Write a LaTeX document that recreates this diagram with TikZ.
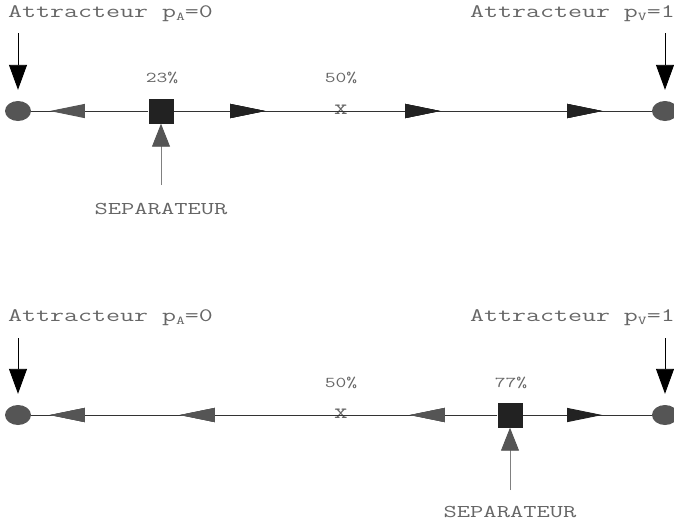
\documentclass[tikz,border=0pt]{standalone}
\usepackage{fontspec}
\usepackage{graphicx}
\usetikzlibrary{arrows.meta,decorations.markings,shapes.geometric}
\definecolor{txtgray}{HTML}{666666}
\definecolor{dotgray}{HTML}{555555}
\definecolor{darktri}{HTML}{222222}
\definecolor{linegray}{HTML}{333333}
\newcommand{\wide}[1]{\scalebox{1.43}[1]{#1}}
\newcommand{\widep}[1]{\scalebox{1.4}[1]{#1}}
\newcommand{\subl}[1]{\raisebox{-0.35ex}{\fontsize{12}{12}\selectfont #1}}
\tikzset{
  lbl/.style={text=txtgray, font=\ttfamily\fontsize{19}{19}\selectfont, inner sep=0pt},
  seplbl/.style={text=txtgray, font=\ttfamily\fontsize{18}{18}\selectfont, inner sep=0pt},
  pct/.style={text=txtgray, font=\ttfamily\fontsize{15}{15}\selectfont, inner sep=0pt},
  xlbl/.style={text=txtgray, font=\ttfamily\fontsize{22}{22}\selectfont, inner sep=0pt},
  attr/.style={ellipse, fill=dotgray, minimum width=26pt, minimum height=20pt, inner sep=0pt},
  sepbox/.style={rectangle, fill=darktri, minimum width=25pt, minimum height=25pt, inner sep=0pt},
  mainline/.style={draw=linegray, line width=0.9pt},
  fwd/.style={postaction={decorate}, decoration={markings, mark=at position #1 with {\arrow[darktri]{Triangle[length=35pt,width=14pt]}}}},
  bwd/.style={postaction={decorate}, decoration={markings, mark=at position #1 with {\arrow[dotgray]{Triangle[length=35pt,width=14pt]}}}},
  downarr/.style={draw=black, line width=0.9pt, -{Triangle[length=25pt,width=18pt]}},
  separr/.style={draw=gray, line width=0.9pt, -{Triangle[length=23pt,width=18pt,color=dotgray]}}
}
\begin{document}
\begin{tikzpicture}[x=1pt,y=-1pt]
\useasboundingbox (0,0) rectangle (674,523);
% ---------- top diagram ----------
\node[lbl, anchor=west] (la1) at (8,14) {\wide{Attracteur p\subl{A}=0}};
\node[lbl, anchor=east] (lv1) at (675,14) {\wide{Attracteur p\subl{V}=1}};
\node[attr] (eL1) at (18,111) {};
\node[attr] (eR1) at (665,111) {};
\node[sepbox] (s1) at (161,111) {};
\node[pct] (p23) at (162,78) {\widep{23\%}};
\node[pct] (p50a) at (341,78) {\widep{50\%}};
\node[xlbl] (x1) at (341,110) {\scalebox{1.2}[1]{x}};
\node[seplbl] (sep1) at (161,209) {\wide{SEPARATEUR}};
\coordinate (da1) at (18,33);
\coordinate (dv1) at (665,33);
\coordinate (sa1) at (161,185);
\draw[mainline, bwd=98.5pt] (s1.west) -- (eL1.east);
\path[mainline, fwd=91.5pt, fwd=266.5pt, fwd=428.5pt] (s1.east) -- (eR1.west);
\draw[downarr, shorten >=11pt] (da1) -- (eL1.north);
\draw[downarr, shorten >=11pt] (dv1) -- (eR1.north);
\draw[separr] (sa1) -- (s1.south);
% ---------- bottom diagram ----------
\node[lbl, anchor=west] (la2) at (8,318) {\wide{Attracteur p\subl{A}=0}};
\node[lbl, anchor=east] (lv2) at (675,318) {\wide{Attracteur p\subl{V}=1}};
\node[attr] (eL2) at (18,415) {};
\node[attr] (eR2) at (665,415) {};
\node[sepbox] (s2) at (510,415) {};
\node[pct] (p50b) at (341,383) {\widep{50\%}};
\node[pct] (p77) at (511,383) {\widep{77\%}};
\node[xlbl] (x2) at (341,414) {\scalebox{1.2}[1]{x}};
\node[seplbl] (sep2) at (510,512) {\wide{SEPARATEUR}};
\coordinate (da2) at (18,338);
\coordinate (dv2) at (665,338);
\coordinate (sa2) at (510,490);
\path[mainline, bwd=87.5pt, bwd=317.5pt, bwd=447.5pt] (s2.west) -- (eL2.east);
\draw[mainline, fwd=79.5pt] (s2.east) -- (eR2.west);
\draw[downarr, shorten >=11pt] (da2) -- (eL2.north);
\draw[downarr, shorten >=11pt] (dv2) -- (eR2.north);
\draw[separr] (sa2) -- (s2.south);
\end{tikzpicture}
\end{document}
